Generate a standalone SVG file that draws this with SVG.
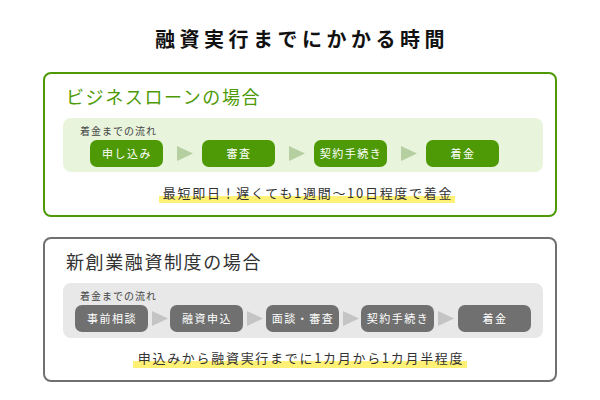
<svg xmlns="http://www.w3.org/2000/svg" width="600" height="400" viewBox="0 0 600 400">
<style>
text{font-family:"Noto Sans CJK JP","Noto Sans CJK SC",sans-serif}
.g{fill:#4e9a06}.gy{fill:#707070}
.bt{fill:#fff;font-size:11px;text-anchor:middle;letter-spacing:1.5px}
.lbl{font-size:10px;letter-spacing:1px}
.nt{font-size:13px;text-anchor:middle;fill:#333;letter-spacing:1.7px}
</style>
<rect width="600" height="400" fill="#fff"/>
<text x="302" y="47" font-size="20" font-weight="bold" text-anchor="middle" fill="#111" letter-spacing="4.5">融資実行までにかかる時間</text>
<g id="business-loan">
<rect x="44" y="73" width="512" height="143" rx="7" fill="#fff" stroke="#4e9a06" stroke-width="2"/>
<text x="66" y="104" font-size="18" fill="#4e9a06" letter-spacing="1.6">ビジネスローンの場合</text>
<rect x="63" y="118" width="480" height="54" rx="8" fill="#e8f5dc"/>
<text x="80" y="135" class="lbl" fill="#444">着金までの流れ</text>
</g>
<g id="b1"><rect x="90" y="140" width="73" height="27" rx="7" class="g"/><text x="127" y="158" class="bt">申し込み</text></g>
<g id="b2"><rect x="202" y="140" width="73" height="27" rx="7" class="g"/><text x="239" y="158" class="bt">審査</text></g>
<g id="b3"><rect x="314" y="140" width="73" height="27" rx="7" class="g"/><text x="351" y="158" class="bt">契約手続き</text></g>
<g id="b4"><rect x="426" y="140" width="73" height="27" rx="7" class="g"/><text x="463" y="158" class="bt">着金</text></g>
<g id="note1">
<rect x="159" y="196" width="296" height="7" fill="#fff176"/>
<text x="308" y="198" class="nt">最短即日！遅くても1週間〜10日程度で着金</text>
</g>
<g id="startup-loan">
<rect x="44" y="238" width="512" height="143" rx="7" fill="#fff" stroke="#707070" stroke-width="2"/>
<text x="66" y="269" font-size="18" fill="#333" letter-spacing="1.6">新創業融資制度の場合</text>
<rect x="63" y="283" width="480" height="55" rx="8" fill="#e8e8e8"/>
<text x="80" y="300" class="lbl" fill="#444">着金までの流れ</text>
</g>
<g id="s1"><rect x="75" y="305" width="73" height="27" rx="7" class="gy"/><text x="112" y="323" class="bt">事前相談</text></g>
<g id="s2"><rect x="170" y="305" width="73" height="27" rx="7" class="gy"/><text x="207" y="323" class="bt">融資申込</text></g>
<g id="s3"><rect x="266" y="305" width="73" height="27" rx="7" class="gy"/><text x="303" y="323" class="bt">面談・審査</text></g>
<g id="s4"><rect x="361" y="305" width="73" height="27" rx="7" class="gy"/><text x="398" y="323" class="bt">契約手続き</text></g>
<g id="s5"><rect x="458" y="305" width="73" height="27" rx="7" class="gy"/><text x="495" y="323" class="bt">着金</text></g>
<g id="note2">
<rect x="133" y="361" width="334" height="7" fill="#fff176"/>
<text x="301" y="363" class="nt">申込みから融資実行までに1カ月から1カ月半程度</text>
</g>
<g id="connectors">
<polygon points="177,146 193,153.5 177,161" fill="#b5cfa0"/>
<polygon points="289,146 305,153.5 289,161" fill="#b5cfa0"/>
<polygon points="401,146 417,153.5 401,161" fill="#b5cfa0"/>
<polygon points="152,311 168,318.5 152,326" fill="#c4c4c4"/>
<polygon points="247,311 263,318.5 247,326" fill="#c4c4c4"/>
<polygon points="343,311 359,318.5 343,326" fill="#c4c4c4"/>
<polygon points="438,311 454,318.5 438,326" fill="#c4c4c4"/>
</g>
</svg>
